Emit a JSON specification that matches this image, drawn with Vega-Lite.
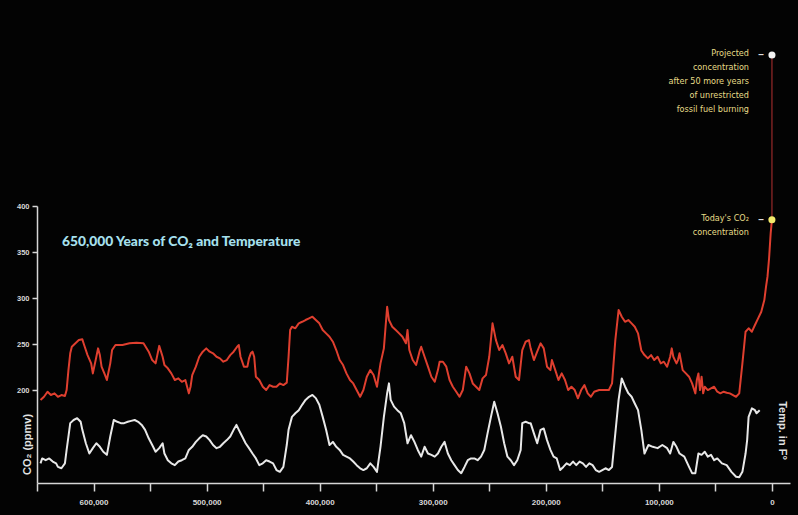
{
  "$schema": "https://vega.github.io/schema/vega-lite/v6.json",
  "width": 753,
  "height": 277,
  "autosize": {"type": "none"},
  "padding": {"left": 37, "top": 206, "right": 8, "bottom": 32},
  "background": "#030303",
  "config": {"view": {"stroke": null}, "font": "Liberation Sans"},
  "title": {"text": "650,000 Years of CO₂ and Temperature", "anchor": "start", "frame": "group", "orient": "top", "offset": 0, "dx": 25, "dy": 211, "baseline": "alphabetic", "color": "#a6e0ee", "font": "Lato", "fontSize": 13.8, "fontWeight": 900},
  "datasets": {
    "co2": [
      {"year": 646900, "ppm": 189.1}, {"year": 643800, "ppm": 192.7}, {"year": 640700, "ppm": 198.2}, {"year": 637700, "ppm": 194.6},
      {"year": 634500, "ppm": 196.4}, {"year": 631500, "ppm": 192.7}, {"year": 628400, "ppm": 194.6}, {"year": 625300, "ppm": 193.5},
      {"year": 623800, "ppm": 200}, {"year": 622200, "ppm": 221.7}, {"year": 620600, "ppm": 239.9}, {"year": 619200, "ppm": 247.1},
      {"year": 616000, "ppm": 250.8}, {"year": 613000, "ppm": 254.3}, {"year": 609900, "ppm": 255.1}, {"year": 608300, "ppm": 248.9},
      {"year": 605300, "ppm": 238}, {"year": 602100, "ppm": 229}, {"year": 600600, "ppm": 218.1}, {"year": 597500, "ppm": 236.2},
      {"year": 596000, "ppm": 245.3}, {"year": 594400, "ppm": 238}, {"year": 592900, "ppm": 225.4}, {"year": 589800, "ppm": 216.3},
      {"year": 588200, "ppm": 210.9}, {"year": 585200, "ppm": 229}, {"year": 583600, "ppm": 243.5}, {"year": 580600, "ppm": 248.9},
      {"year": 574400, "ppm": 248.9}, {"year": 568200, "ppm": 250.8}, {"year": 562000, "ppm": 251.4}, {"year": 555800, "ppm": 250.8},
      {"year": 551200, "ppm": 241.7}, {"year": 548100, "ppm": 232.6}, {"year": 545100, "ppm": 229}, {"year": 541900, "ppm": 248},
      {"year": 538900, "ppm": 236.2}, {"year": 537300, "ppm": 227.2}, {"year": 534300, "ppm": 223.6}, {"year": 531200, "ppm": 218.1},
      {"year": 528100, "ppm": 210.9}, {"year": 525000, "ppm": 212.7}, {"year": 521900, "ppm": 209}, {"year": 518800, "ppm": 210.9},
      {"year": 515700, "ppm": 196.4}, {"year": 514200, "ppm": 203.6}, {"year": 512700, "ppm": 216.3}, {"year": 509500, "ppm": 225.4},
      {"year": 506500, "ppm": 236.2}, {"year": 503400, "ppm": 241.7}, {"year": 500300, "ppm": 245.3}, {"year": 497300, "ppm": 241.7},
      {"year": 494300, "ppm": 239.9}, {"year": 491200, "ppm": 236.2}, {"year": 488200, "ppm": 234.4}, {"year": 485200, "ppm": 230.8},
      {"year": 482100, "ppm": 232.6}, {"year": 479100, "ppm": 238}, {"year": 476100, "ppm": 241.7}, {"year": 473000, "ppm": 247.1},
      {"year": 471500, "ppm": 248.9}, {"year": 470000, "ppm": 236.2}, {"year": 467000, "ppm": 225.4}, {"year": 463900, "ppm": 225.4},
      {"year": 462500, "ppm": 234.4}, {"year": 460900, "ppm": 239.9}, {"year": 459400, "ppm": 241.7}, {"year": 457900, "ppm": 236.2},
      {"year": 456400, "ppm": 214.5}, {"year": 453400, "ppm": 210.9}, {"year": 450300, "ppm": 203.6}, {"year": 447300, "ppm": 200},
      {"year": 444300, "ppm": 205.4}, {"year": 441200, "ppm": 203.6}, {"year": 438200, "ppm": 203.6}, {"year": 435200, "ppm": 207.2},
      {"year": 432100, "ppm": 205.4}, {"year": 429100, "ppm": 208}, {"year": 427500, "ppm": 236.2}, {"year": 426100, "ppm": 265.2},
      {"year": 424500, "ppm": 268.8}, {"year": 421500, "ppm": 267.1}, {"year": 418500, "ppm": 272.5}, {"year": 415500, "ppm": 274.2},
      {"year": 412500, "ppm": 276.1}, {"year": 409400, "ppm": 277.9}, {"year": 406400, "ppm": 279.7}, {"year": 403400, "ppm": 276.1},
      {"year": 400300, "ppm": 272.5}, {"year": 397300, "ppm": 265.2}, {"year": 394300, "ppm": 261.6}, {"year": 391300, "ppm": 257.9},
      {"year": 388300, "ppm": 252.5}, {"year": 385300, "ppm": 243.5}, {"year": 382300, "ppm": 232.6}, {"year": 379300, "ppm": 227.2},
      {"year": 376300, "ppm": 218.1}, {"year": 373200, "ppm": 210.9}, {"year": 370300, "ppm": 207.2}, {"year": 367300, "ppm": 200},
      {"year": 364200, "ppm": 192.7}, {"year": 361300, "ppm": 200}, {"year": 358300, "ppm": 214.5}, {"year": 355200, "ppm": 221.7},
      {"year": 352300, "ppm": 216.3}, {"year": 349300, "ppm": 203.6}, {"year": 346200, "ppm": 229}, {"year": 343200, "ppm": 245.3},
      {"year": 341700, "ppm": 268.8}, {"year": 340300, "ppm": 290.5}, {"year": 338700, "ppm": 276.1}, {"year": 335800, "ppm": 268.8},
      {"year": 332700, "ppm": 265.2}, {"year": 329700, "ppm": 261.6}, {"year": 326800, "ppm": 257.9}, {"year": 323700, "ppm": 250.8},
      {"year": 322300, "ppm": 265.2}, {"year": 320700, "ppm": 243.5}, {"year": 317700, "ppm": 232.6}, {"year": 314700, "ppm": 227.2},
      {"year": 311700, "ppm": 241.7}, {"year": 310200, "ppm": 247.1}, {"year": 307200, "ppm": 236.2}, {"year": 304200, "ppm": 225.4},
      {"year": 301200, "ppm": 214.5}, {"year": 298200, "ppm": 209}, {"year": 295400, "ppm": 221.7}, {"year": 293900, "ppm": 230.8},
      {"year": 291000, "ppm": 230.8}, {"year": 288000, "ppm": 225.4}, {"year": 285100, "ppm": 210.9}, {"year": 282200, "ppm": 203.6},
      {"year": 279200, "ppm": 198.2}, {"year": 276300, "ppm": 192.7}, {"year": 273400, "ppm": 200}, {"year": 270400, "ppm": 225.4},
      {"year": 267500, "ppm": 218.1}, {"year": 264600, "ppm": 207.2}, {"year": 261700, "ppm": 203.6}, {"year": 258800, "ppm": 200},
      {"year": 255900, "ppm": 212.7}, {"year": 252900, "ppm": 216.3}, {"year": 250000, "ppm": 236.2}, {"year": 247100, "ppm": 272.5},
      {"year": 244100, "ppm": 254.3}, {"year": 241200, "ppm": 243.5}, {"year": 238300, "ppm": 248.9}, {"year": 235400, "ppm": 239.9},
      {"year": 232500, "ppm": 229}, {"year": 229600, "ppm": 236.2}, {"year": 226600, "ppm": 214.5}, {"year": 223700, "ppm": 210.9},
      {"year": 220800, "ppm": 243.5}, {"year": 217800, "ppm": 252.5}, {"year": 214900, "ppm": 254.3}, {"year": 213400, "ppm": 245.3},
      {"year": 210500, "ppm": 232.6}, {"year": 207600, "ppm": 241.7}, {"year": 204600, "ppm": 250.8}, {"year": 201800, "ppm": 245.3},
      {"year": 198900, "ppm": 225.4}, {"year": 195900, "ppm": 221.7}, {"year": 194600, "ppm": 232.6}, {"year": 191600, "ppm": 221.7},
      {"year": 188800, "ppm": 210.9}, {"year": 185900, "ppm": 218.1}, {"year": 183000, "ppm": 210.9}, {"year": 180200, "ppm": 200},
      {"year": 177300, "ppm": 203.6}, {"year": 174400, "ppm": 200}, {"year": 171600, "ppm": 191}, {"year": 168700, "ppm": 200},
      {"year": 165800, "ppm": 205.4}, {"year": 162900, "ppm": 196.4}, {"year": 160100, "ppm": 192.7}, {"year": 157200, "ppm": 198.2},
      {"year": 152800, "ppm": 200}, {"year": 148500, "ppm": 200}, {"year": 144200, "ppm": 200}, {"year": 141400, "ppm": 207.2},
      {"year": 138500, "ppm": 254.3}, {"year": 135600, "ppm": 287}, {"year": 132800, "ppm": 279.7}, {"year": 129900, "ppm": 274.2},
      {"year": 127000, "ppm": 276.1}, {"year": 124100, "ppm": 272.5}, {"year": 121300, "ppm": 268.8}, {"year": 118400, "ppm": 261.6},
      {"year": 115500, "ppm": 243}, {"year": 112700, "ppm": 238}, {"year": 109700, "ppm": 234.4}, {"year": 106900, "ppm": 238},
      {"year": 104100, "ppm": 232.6}, {"year": 101100, "ppm": 236.2}, {"year": 98300, "ppm": 229}, {"year": 95600, "ppm": 230.8},
      {"year": 92700, "ppm": 225.4}, {"year": 90000, "ppm": 236.2}, {"year": 88600, "ppm": 245.3}, {"year": 87200, "ppm": 236.2},
      {"year": 84400, "ppm": 229}, {"year": 83100, "ppm": 232.6}, {"year": 81700, "ppm": 239.9}, {"year": 78900, "ppm": 221.7},
      {"year": 76100, "ppm": 218.1}, {"year": 73300, "ppm": 214.5}, {"year": 70600, "ppm": 207.2}, {"year": 67700, "ppm": 196.4},
      {"year": 66400, "ppm": 210.9}, {"year": 65000, "ppm": 218.1}, {"year": 63600, "ppm": 200}, {"year": 62200, "ppm": 214.5},
      {"year": 60800, "ppm": 196.4}, {"year": 59400, "ppm": 203.6}, {"year": 56700, "ppm": 200}, {"year": 53900, "ppm": 201.8},
      {"year": 51100, "ppm": 203.6}, {"year": 48300, "ppm": 198.2}, {"year": 45600, "ppm": 196.4}, {"year": 42700, "ppm": 198.2},
      {"year": 40000, "ppm": 197.1}, {"year": 37200, "ppm": 196.4}, {"year": 34400, "ppm": 194.6}, {"year": 31700, "ppm": 192.7},
      {"year": 28900, "ppm": 196.4}, {"year": 26100, "ppm": 229}, {"year": 23300, "ppm": 263.4}, {"year": 20600, "ppm": 267.1},
      {"year": 17700, "ppm": 263.4}, {"year": 15000, "ppm": 270.7}, {"year": 12200, "ppm": 277.9}, {"year": 9400, "ppm": 285.1},
      {"year": 6700, "ppm": 297.8}, {"year": 5200, "ppm": 312.3}, {"year": 3900, "ppm": 323.2}, {"year": 2500, "ppm": 343.2},
      {"year": 1100, "ppm": 370.3}, {"year": 0, "ppm": 385}
    ],
    "temp": [
      {"year": 646900, "temp": -11.6}, {"year": 645400, "temp": -10.5}, {"year": 642300, "temp": -10.9}, {"year": 639200, "temp": -10.5},
      {"year": 636100, "temp": -11.2}, {"year": 633100, "temp": -11.6}, {"year": 631500, "temp": -12.4}, {"year": 628400, "temp": -12.7},
      {"year": 625300, "temp": -11.6}, {"year": 623800, "temp": -8.6}, {"year": 622200, "temp": -5.6}, {"year": 620600, "temp": -2.6},
      {"year": 617600, "temp": -1.9}, {"year": 614500, "temp": -1.5}, {"year": 611400, "temp": -2.3}, {"year": 609900, "temp": -4.1},
      {"year": 606800, "temp": -7.1}, {"year": 603700, "temp": -9.4}, {"year": 600600, "temp": -8.2}, {"year": 597500, "temp": -7.1},
      {"year": 594400, "temp": -7.9}, {"year": 591400, "temp": -9.0}, {"year": 588200, "temp": -9.7}, {"year": 585200, "temp": -5.6},
      {"year": 582100, "temp": -1.9}, {"year": 579000, "temp": -2.3}, {"year": 575900, "temp": -2.6}, {"year": 572900, "temp": -2.6},
      {"year": 569700, "temp": -2.3}, {"year": 566700, "temp": -2.1}, {"year": 563600, "temp": -1.9}, {"year": 560500, "temp": -2.3},
      {"year": 557400, "temp": -3.0}, {"year": 554400, "temp": -4.1}, {"year": 551200, "temp": -6.0}, {"year": 548100, "temp": -7.5},
      {"year": 545100, "temp": -9.0}, {"year": 541900, "temp": -8.2}, {"year": 538900, "temp": -7.1}, {"year": 537300, "temp": -9.4},
      {"year": 534300, "temp": -10.9}, {"year": 531200, "temp": -11.6}, {"year": 528100, "temp": -12.0}, {"year": 525000, "temp": -11.2},
      {"year": 521900, "temp": -10.9}, {"year": 518800, "temp": -10.5}, {"year": 515700, "temp": -8.6}, {"year": 512700, "temp": -7.9},
      {"year": 509500, "temp": -6.8}, {"year": 506500, "temp": -6.0}, {"year": 503400, "temp": -5.3}, {"year": 500300, "temp": -5.6},
      {"year": 497300, "temp": -6.4}, {"year": 494300, "temp": -7.5}, {"year": 491200, "temp": -8.2}, {"year": 488200, "temp": -7.9},
      {"year": 485200, "temp": -7.1}, {"year": 482100, "temp": -6.4}, {"year": 479100, "temp": -5.6}, {"year": 476100, "temp": -4.1},
      {"year": 473600, "temp": -3.0}, {"year": 471500, "temp": -4.1}, {"year": 468500, "temp": -5.6}, {"year": 465500, "temp": -7.1},
      {"year": 462500, "temp": -8.2}, {"year": 459400, "temp": -9.4}, {"year": 456400, "temp": -10.5}, {"year": 453400, "temp": -12.0},
      {"year": 450300, "temp": -11.6}, {"year": 447300, "temp": -10.9}, {"year": 444300, "temp": -11.2}, {"year": 441200, "temp": -11.6},
      {"year": 438200, "temp": -13.1}, {"year": 435200, "temp": -13.5}, {"year": 432100, "temp": -12.4}, {"year": 429100, "temp": -7.5},
      {"year": 427500, "temp": -4.1}, {"year": 424500, "temp": -1.2}, {"year": 421500, "temp": -0.4}, {"year": 418500, "temp": 0.3},
      {"year": 415500, "temp": 1.5}, {"year": 412500, "temp": 2.6}, {"year": 409400, "temp": 3.3}, {"year": 406400, "temp": 3.7},
      {"year": 403400, "temp": 3.0}, {"year": 400300, "temp": 1.5}, {"year": 397300, "temp": -1.2}, {"year": 394300, "temp": -4.1},
      {"year": 391300, "temp": -7.5}, {"year": 388300, "temp": -6.8}, {"year": 385300, "temp": -7.9}, {"year": 382300, "temp": -8.6},
      {"year": 379300, "temp": -9.7}, {"year": 376300, "temp": -10.1}, {"year": 373200, "temp": -10.5}, {"year": 370300, "temp": -11.2},
      {"year": 367300, "temp": -12.0}, {"year": 364200, "temp": -12.7}, {"year": 361300, "temp": -13.1}, {"year": 358300, "temp": -12.7},
      {"year": 355200, "temp": -11.6}, {"year": 352300, "temp": -12.4}, {"year": 349300, "temp": -13.5}, {"year": 346200, "temp": -7.9},
      {"year": 343200, "temp": -1.2}, {"year": 340300, "temp": 4.1}, {"year": 338700, "temp": 6.3}, {"year": 337200, "temp": 2.6},
      {"year": 334200, "temp": 1.1}, {"year": 331300, "temp": 0.3}, {"year": 328200, "temp": -0.4}, {"year": 325200, "temp": -2.6},
      {"year": 322300, "temp": -7.1}, {"year": 319200, "temp": -5.3}, {"year": 316200, "temp": -6.8}, {"year": 313200, "temp": -8.6},
      {"year": 310200, "temp": -10.1}, {"year": 307200, "temp": -7.9}, {"year": 304200, "temp": -9.4}, {"year": 301200, "temp": -9.7},
      {"year": 298200, "temp": -10.1}, {"year": 295400, "temp": -9.4}, {"year": 292400, "temp": -7.9}, {"year": 289500, "temp": -6.8},
      {"year": 286600, "temp": -9.4}, {"year": 283600, "temp": -10.9}, {"year": 280700, "temp": -12.0}, {"year": 277800, "temp": -13.1},
      {"year": 274800, "temp": -13.8}, {"year": 271900, "temp": -12.4}, {"year": 269000, "temp": -10.9}, {"year": 266100, "temp": -10.5},
      {"year": 263200, "temp": -10.5}, {"year": 260300, "temp": -10.9}, {"year": 257300, "temp": -10.1}, {"year": 254400, "temp": -8.6},
      {"year": 251500, "temp": -4.9}, {"year": 248500, "temp": -1.2}, {"year": 245600, "temp": 2.2}, {"year": 242700, "temp": -0.4},
      {"year": 239700, "temp": -3.4}, {"year": 236800, "temp": -7.1}, {"year": 233900, "temp": -10.1}, {"year": 231000, "temp": -10.9},
      {"year": 228100, "temp": -12.0}, {"year": 225200, "temp": -10.9}, {"year": 222200, "temp": -8.6}, {"year": 220800, "temp": -2.6},
      {"year": 217800, "temp": -2.3}, {"year": 214900, "temp": -2.6}, {"year": 213400, "temp": -2.6}, {"year": 210500, "temp": -4.9},
      {"year": 207600, "temp": -7.1}, {"year": 204600, "temp": -4.1}, {"year": 201800, "temp": -3.8}, {"year": 198900, "temp": -6.4},
      {"year": 195900, "temp": -8.6}, {"year": 193100, "temp": -10.1}, {"year": 190300, "temp": -10.5}, {"year": 187300, "temp": -13.1},
      {"year": 184500, "temp": -12.4}, {"year": 181600, "temp": -11.6}, {"year": 178700, "temp": -12.0}, {"year": 175900, "temp": -11.2},
      {"year": 173000, "temp": -12.0}, {"year": 170100, "temp": -11.2}, {"year": 167200, "temp": -11.6}, {"year": 164400, "temp": -12.4},
      {"year": 161500, "temp": -11.6}, {"year": 158600, "temp": -12.0}, {"year": 155800, "temp": -13.1}, {"year": 152800, "temp": -13.5},
      {"year": 150000, "temp": -13.1}, {"year": 147200, "temp": -12.7}, {"year": 144200, "temp": -13.1}, {"year": 141400, "temp": -12.4},
      {"year": 138500, "temp": -4.9}, {"year": 135600, "temp": 2.6}, {"year": 132800, "temp": 7.4}, {"year": 129900, "temp": 5.6},
      {"year": 127000, "temp": 4.1}, {"year": 124100, "temp": 3.3}, {"year": 121300, "temp": 1.8}, {"year": 118400, "temp": 0.3},
      {"year": 115500, "temp": -4.1}, {"year": 112700, "temp": -9.4}, {"year": 109200, "temp": -7.5}, {"year": 105400, "temp": -7.9},
      {"year": 101100, "temp": -8.2}, {"year": 96900, "temp": -7.5}, {"year": 92700, "temp": -8.2}, {"year": 90000, "temp": -9.4},
      {"year": 87200, "temp": -6.8}, {"year": 84400, "temp": -7.9}, {"year": 81700, "temp": -9.4}, {"year": 77500, "temp": -10.1},
      {"year": 73300, "temp": -12.4}, {"year": 70600, "temp": -13.8}, {"year": 67700, "temp": -13.8}, {"year": 65000, "temp": -9.4},
      {"year": 62200, "temp": -9.7}, {"year": 59400, "temp": -9.0}, {"year": 56700, "temp": -10.1}, {"year": 53900, "temp": -9.7},
      {"year": 51100, "temp": -10.9}, {"year": 48300, "temp": -10.5}, {"year": 44200, "temp": -11.6}, {"year": 40000, "temp": -12.0},
      {"year": 35800, "temp": -13.5}, {"year": 31700, "temp": -14.6}, {"year": 28900, "temp": -14.7}, {"year": 26100, "temp": -13.5},
      {"year": 23300, "temp": -9.4}, {"year": 21900, "temp": -6.4}, {"year": 20600, "temp": -1.2}, {"year": 17700, "temp": 0.7},
      {"year": 15000, "temp": 0.3}, {"year": 13600, "temp": -0.4}, {"year": 10800, "temp": 0.3}
    ],
    "projection": [
      {"year": 0, "ppm": 385}, {"year": -50, "ppm": 564}
    ],
    "notes": [
      {"year": 0, "ppm": 385, "kind": "Today", "label": "Today's CO₂\nconcentration"},
      {"year": -50, "ppm": 564, "kind": "Projected", "label": "Projected\nconcentration\nafter 50 more years\nof unrestricted\nfossil fuel burning"}
    ]
  },
  "encoding": {
    "x": {
      "field": "year", "type": "quantitative",
      "scale": {"domain": [650000, -16000], "nice": false, "zero": false},
      "axis": {
        "values": [650000, 600000, 550000, 500000, 450000, 400000, 350000, 300000, 250000, 200000, 150000, 100000, 50000, 0],
        "labelExpr": "datum.value % 100000 === 0 ? format(datum.value, ',') : ''",
        "title": null, "grid": false, "labelOverlap": false,
        "domainColor": "#d6d6d6", "domainWidth": 1.5, "tickColor": "#d6d6d6", "tickWidth": 1.5, "tickSize": 8,
        "labelColor": "#d8d8d8", "labelFontSize": 8, "labelFontWeight": "bold", "labelPadding": 7
      }
    }
  },
  "layer": [
    {
      "encoding": {
        "y": {
          "field": "ppm", "type": "quantitative",
          "scale": {"domain": [99, 400], "nice": false, "zero": false},
          "axis": {
            "values": [200, 250, 300, 350, 400], "grid": false,
            "domainColor": "#d6d6d6", "domainWidth": 1.5, "tickColor": "#d6d6d6", "tickWidth": 1.5, "tickSize": 5,
            "labelColor": "#d8d8d8", "labelFontSize": 7.5, "labelFontWeight": "bold", "labelPadding": 3,
            "title": "CO₂ (ppmv)", "titleX": -10, "titleY": 238, "titleAngle": -90, "titleAlign": "center", "titleBaseline": "middle",
            "titleColor": "#e2e2e2", "titleFontSize": 11, "titleFontWeight": "bold"
          }
        }
      },
      "layer": [
        {"data": {"name": "projection"}, "mark": {"type": "line", "color": "#7a2222", "strokeWidth": 1.5}},
        {"data": {"name": "co2"}, "mark": {"type": "line", "color": "#df3f2f", "strokeWidth": 2, "strokeJoin": "round"}},
        {
          "data": {"name": "notes"},
          "mark": {"type": "point", "filled": true, "size": 50, "opacity": 1},
          "encoding": {"color": {"field": "kind", "type": "nominal", "scale": {"domain": ["Today", "Projected"], "range": ["#f3ea6c", "#f2f2f2"]}, "legend": null}}
        },
        {
          "data": {"name": "notes"},
          "mark": {"type": "text", "align": "right", "baseline": "top", "dx": -23, "dy": -6, "lineBreak": "\n", "lineHeight": 14, "font": "DejaVu Sans Condensed", "fontSize": 9, "color": "#e6dc88"},
          "encoding": {"text": {"field": "label"}}
        },
        {
          "data": {"name": "notes"},
          "mark": {"type": "text", "align": "center", "baseline": "middle", "dx": -11, "fontSize": 10, "fontWeight": "bold", "color": "#dcdcdc"},
          "encoding": {"text": {"value": "–"}}
        }
      ]
    },
    {
      "data": {"name": "temp"},
      "mark": {"type": "line", "color": "#e8e8e8", "strokeWidth": 2, "strokeJoin": "round"},
      "encoding": {
        "y": {
          "field": "temp", "type": "quantitative",
          "scale": {"domain": [-16, 46], "nice": false, "zero": false},
          "axis": {
            "orient": "right", "domain": false, "ticks": false, "labels": false, "grid": false,
            "title": "Temp. in F°", "titleAngle": 90, "titleX": -9, "titleY": 224, "titleAlign": "center", "titleBaseline": "middle",
            "titleColor": "#e2e2e2", "titleFontSize": 11, "titleFontWeight": "bold"
          }
        }
      }
    }
  ],
  "resolve": {"scale": {"y": "independent"}, "axis": {"y": "independent"}}
}
